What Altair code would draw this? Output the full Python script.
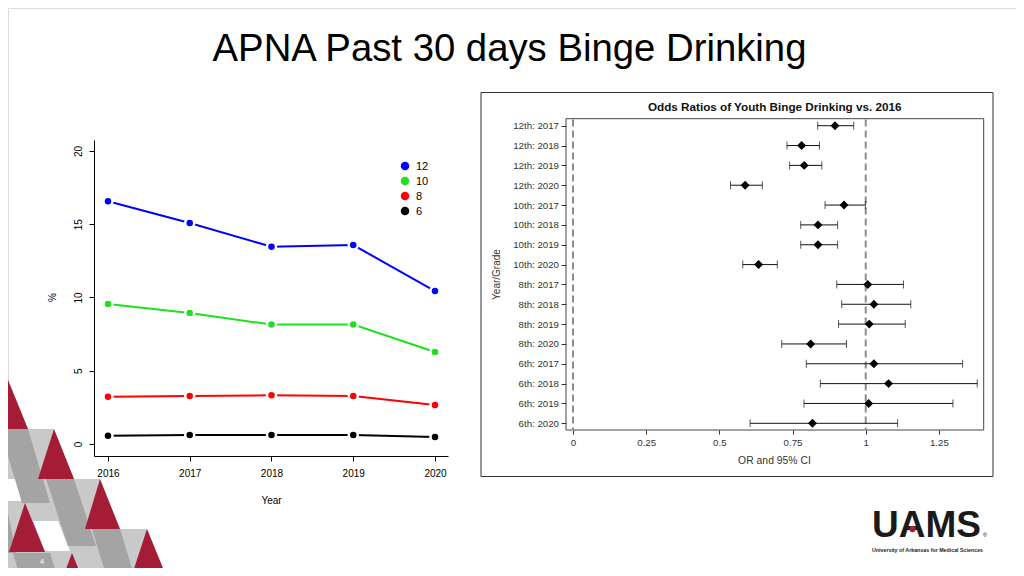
import altair as alt
import pandas as pd

# ---------------- data ----------------
YEARS = [2016, 2017, 2018, 2019, 2020]
GRADES = ["12", "10", "8", "6"]
PCT_12 = [16.57, 15.08, 13.47, 13.58, 10.44]
PCT_10 = [9.56, 8.94, 8.15, 8.15, 6.28]
PCT_8 = [3.23, 3.28, 3.32, 3.28, 2.66]
PCT_6 = [0.57, 0.61, 0.61, 0.61, 0.48]
GRADE_COLORS = ["#0000ff", "#1fe01f", "#ff0000", "#000000"]

OR_LABELS = ["12th: 2017", "12th: 2018", "12th: 2019", "12th: 2020",
             "10th: 2017", "10th: 2018", "10th: 2019", "10th: 2020",
             "8th: 2017", "8th: 2018", "8th: 2019", "8th: 2020",
             "6th: 2017", "6th: 2018", "6th: 2019", "6th: 2020"]
OR_EST = [0.895, 0.781, 0.790, 0.588, 0.926, 0.837, 0.837, 0.634,
          1.007, 1.028, 1.012, 0.812, 1.028, 1.078, 1.010, 0.818]
OR_LO = [0.836, 0.731, 0.740, 0.538, 0.861, 0.778, 0.778, 0.580,
         0.901, 0.918, 0.907, 0.713, 0.797, 0.845, 0.789, 0.605]
OR_HI = [0.959, 0.842, 0.850, 0.647, 0.999, 0.904, 0.904, 0.698,
         1.129, 1.154, 1.135, 0.934, 1.331, 1.381, 1.298, 1.109]
REF_LINES = [0, 1]
OR_TICKS = [0, 0.25, 0.5, 0.75, 1, 1.25]

SLIDE_TITLE = "APNA Past 30 days Binge Drinking"
OR_TITLE = "Odds Ratios of Youth Binge Drinking vs. 2016"

# ---------------- layout helpers ----------------
W, H = 1008, 560
OX, OY = 8, 8
FONT = "Liberation Sans"


def px(x):
    return x - OX


def py(y):
    return y - OY


ONE = pd.DataFrame({"k": [0]})


def text(t, x, y, size, weight="normal", color="black", align="center", baseline="alphabetic"):
    return alt.Chart(ONE).mark_text(
        text=t, font=FONT, fontSize=size, fontWeight=weight, color=color,
        align=align, baseline=baseline
    ).encode(x=alt.value(px(x)), y=alt.value(py(y)))


def poly_path(polys, s=100.0):
    parts = []
    for poly in polys:
        pts = [f"{(x - OX) / s:.3f},{(y - OY) / s:.3f}" for x, y in poly]
        parts.append("M" + " L".join(pts) + " Z")
    return " ".join(parts)


def decor(polys, color):
    return alt.Chart(ONE).mark_point(
        shape=poly_path(polys), size=40000, filled=True, color=color,
        opacity=1, strokeWidth=0
    ).encode(x=alt.value(0), y=alt.value(0))


def box(x1, y1, x2, y2, color, width=1):
    return alt.Chart(ONE).mark_rect(
        fillOpacity=0, stroke=color, strokeWidth=width
    ).encode(x=alt.value(px(x1)), x2=alt.value(px(x2)),
             y=alt.value(py(y1)), y2=alt.value(py(y2)))


# ---------------- slide decoration ----------------
light = decor([[(8, 380), (28, 429), (54, 429), (74, 479), (100, 479), (120, 529),
                (147, 529), (167, 578), (0, 578), (0, 396)]], "#c9c9c9")
white = decor([[(0, 479), (16, 479), (22, 501), (0, 501)],
               [(33, 521), (58, 521), (70, 551), (45, 551)]], "#ffffff")
medium = decor([[(0, 429), (28, 429), (50, 503), (22, 503)],
                [(46, 479), (74, 479), (96, 546), (68, 546)],
                [(92, 529), (120, 529), (135, 578), (107, 578)],
                [(13, 553), (50, 553), (58, 578), (20, 578)],
                [(0, 503), (6, 503), (16, 553), (0, 553)]], "#a4a4a4")
crimson = decor([[(8, 380), (28, 429), (-12, 429)],
                 [(54, 429), (74, 479), (38, 479)],
                 [(100, 479), (120, 529), (85, 529)],
                 [(147, 529), (167, 578), (131, 578)],
                 [(25, 503), (45, 552), (9, 552)],
                 [(72, 553), (85, 585), (60, 585)]], "#a51c36")
page_no = text("4", 42, 562, 8, color="white", baseline="middle")

# ---------------- left chart: % by grade ----------------
left_df = pd.DataFrame({
    "year": YEARS * 4,
    "grade": [g for g in GRADES for _ in YEARS],
    "pct": PCT_12 + PCT_10 + PCT_8 + PCT_6,
})
grade_scale = alt.Scale(domain=GRADES, range=GRADE_COLORS)

lx = alt.X("year:Q",
           scale=alt.Scale(domain=[2015.829, 2020.159], range=[px(94), px(448)], nice=False, zero=False),
           axis=alt.Axis(orient="bottom", offset=py(456) - H, values=YEARS, format="d", grid=False,
                         domainColor="black", tickColor="black", tickSize=5, labelPadding=7,
                         labelFont=FONT, labelFontSize=10, labelColor="black", labelFlush=False,
                         labelOverlap=False, title="Year", titleFont=FONT, titleFontSize=10,
                         titleFontWeight="normal", titleColor="black", titleX=px(271),
                         titleY=44, titleBaseline="middle", titleAlign="center"))
ly = alt.Y("pct:Q",
           scale=alt.Scale(domain=[-0.82, 20.75], range=[py(456), py(140)], nice=False, zero=False),
           axis=alt.Axis(orient="left", offset=-px(94), values=[0, 5, 10, 15, 20], grid=False,
                         domainColor="black", tickColor="black", tickSize=5, labelPadding=8,
                         labelAngle=270, labelAlign="center", labelBaseline="alphabetic",
                         labelFont=FONT, labelFontSize=10, labelColor="black", labelFlush=False,
                         labelOverlap=False, title="%", titleFont=FONT, titleFontSize=10,
                         titleFontWeight="normal", titleColor="black", titleAngle=270,
                         titleX=52 - 94, titleY=py(297), titleAlign="center", titleBaseline="middle"))

lines = alt.Chart(left_df).mark_line(strokeWidth=2).encode(
    x=lx, y=ly,
    stroke=alt.Stroke("grade:N", scale=grade_scale, legend=None),
)
points = alt.Chart(left_df).mark_circle(size=81, opacity=1, stroke="white", strokeWidth=2.5).encode(
    x=lx, y=ly,
    color=alt.Color("grade:N", scale=grade_scale, legend=None),
)
left = alt.layer(lines, points)

# legend (drawn from the grade list through its own point scale)
leg_df = pd.DataFrame({"grade": GRADES})
leg_y = alt.Y("grade:N", scale=alt.Scale(type="point", domain=GRADES, range=[py(166), py(211)], padding=0),
              axis=None)
leg_sym = alt.Chart(leg_df).mark_circle(size=72, opacity=1).encode(
    x=alt.value(px(405)), y=leg_y,
    color=alt.Color("grade:N", scale=grade_scale, legend=None))
leg_txt = alt.Chart(leg_df).mark_text(font=FONT, fontSize=11, align="left", baseline="middle",
                                      color="black", dy=0.5).encode(
    x=alt.value(px(416)), y=leg_y, text="grade:N")
legend = alt.layer(leg_sym, leg_txt)

# ---------------- right chart: odds ratios ----------------
or_df = pd.DataFrame({"label": OR_LABELS, "est": OR_EST, "lo": OR_LO, "hi": OR_HI})
ref_df = pd.DataFrame({"ref": REF_LINES})

rx_scale = alt.Scale(domain=[-0.0239, 1.4031], range=[px(566), px(983.7)], nice=False, zero=False)
rx_axis = alt.Axis(orient="bottom", offset=py(430) - H, values=OR_TICKS, format=".3~g", grid=False,
                   domain=False, tickColor="#333333", tickSize=4, labelPadding=3, labelFont=FONT,
                   labelFontSize=9.7, labelColor="#333333", labelFlush=False, labelOverlap=False,
                   title="OR and 95% CI", titleFont=FONT, titleFontSize=10.4, titleFontWeight="normal",
                   titleColor="#333333", titleX=px(774), titleY=30, titleBaseline="middle",
                   titleAlign="center")
ry_scale = alt.Scale(type="point", domain=OR_LABELS, range=[py(125.7), py(423.3)], padding=0)
ry_axis = alt.Axis(orient="left", offset=-px(566), grid=False, domain=False, tickSize=5,
                   tickColor="#333333", labelPadding=2.5, labelFont=FONT, labelFontSize=9.7,
                   labelColor="#333333", labelOverlap=False, title="Year/Grade", titleFont=FONT,
                   titleFontSize=10, titleFontWeight="normal", titleColor="#333333", titleAngle=270,
                   titleX=496 - 566, titleY=py(274), titleAlign="center", titleBaseline="middle")

ry = alt.Y("label:N", scale=ry_scale, axis=ry_axis)

refs = alt.Chart(ref_df).mark_rule(color="#8c8c8c", strokeWidth=2, strokeDash=[7, 4]).encode(
    x=alt.X("ref:Q", scale=rx_scale, axis=rx_axis),
    y=alt.value(py(119.5)), y2=alt.value(py(429.5)),
)
ci = alt.Chart(or_df).mark_rule(color="#111111", strokeWidth=1).encode(
    x=alt.X("lo:Q", scale=rx_scale, axis=rx_axis), x2="hi:Q", y=ry)
cap_lo = alt.Chart(or_df).mark_tick(orient="vertical", size=8, thickness=1, color="#111111").encode(
    x=alt.X("lo:Q", scale=rx_scale, axis=rx_axis), y=ry)
cap_hi = alt.Chart(or_df).mark_tick(orient="vertical", size=8, thickness=1, color="#111111").encode(
    x=alt.X("hi:Q", scale=rx_scale, axis=rx_axis), y=ry)
est = alt.Chart(or_df).mark_point(shape="diamond", filled=True, size=80, color="black", opacity=1).encode(
    x=alt.X("est:Q", scale=rx_scale, axis=rx_axis), y=ry)
right = alt.layer(refs, ci, cap_lo, cap_hi, est)

frame = box(481, 92.5, 993, 476.5, "#333333")
plotbox = box(566, 118.7, 983.7, 430, "#444444")
or_title = text(OR_TITLE, 774.7, 107, 11.7, weight="bold", color="#111111", baseline="middle")

# ---------------- slide texts ----------------
slide_title = text(SLIDE_TITLE, 509.5, 61, 38.3)
uams = text("UAMS", 926.5, 537, 37, weight="bold", color="#1a1a1a")
uams_dot = alt.Chart(ONE).mark_circle(size=40, color="#a51c36", opacity=1).encode(
    x=alt.value(px(912.5)), y=alt.value(py(529)))
uams_reg = text("®", 985, 537, 6, color="#1a1a1a")
uams_sub = text("University of Arkansas for Medical Sciences", 927.5, 550, 5.3, weight="bold",
                color="#222222", baseline="middle")

chart = alt.layer(
    light, white, medium, crimson, page_no,
    frame, plotbox, left, legend, right,
    or_title, slide_title, uams, uams_dot, uams_reg, uams_sub,
).resolve_scale(
    x="independent", y="independent"
).resolve_axis(
    x="independent", y="independent"
).properties(
    width=W, height=H, padding=0, autosize=alt.AutoSizeParams(type="none"), background="white"
).configure_view(stroke=None).configure(font=FONT)

chart.save("out.html", embed_options={"renderer": "svg", "actions": False})
